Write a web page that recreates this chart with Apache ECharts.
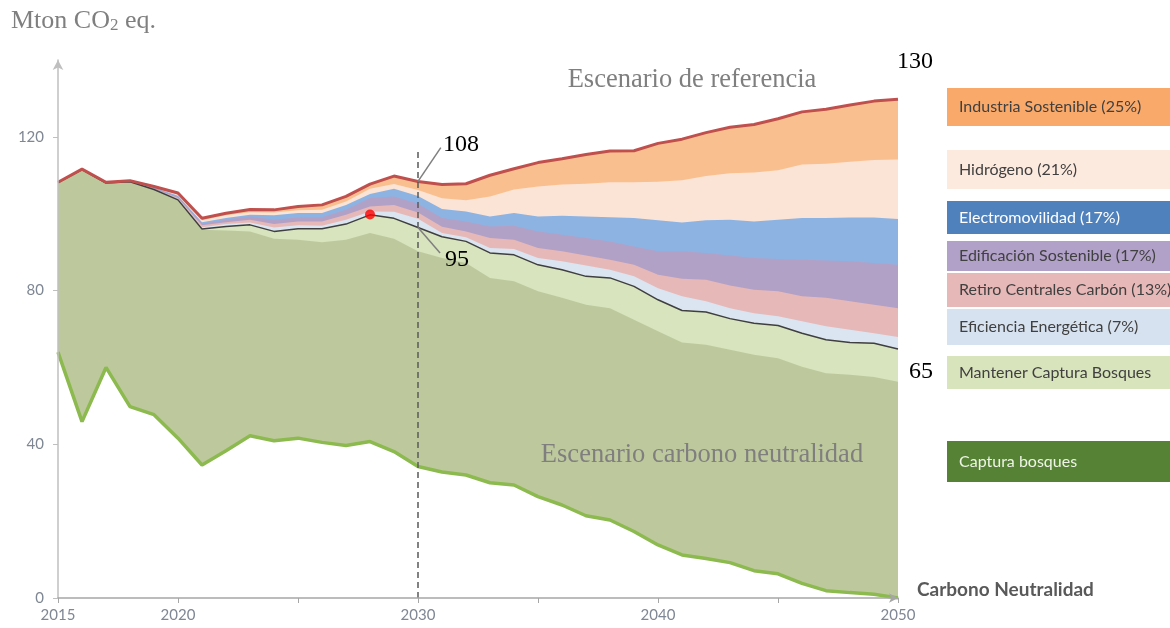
<!DOCTYPE html>
<html>
<head>
<meta charset="utf-8">
<title>Escenarios de emisiones</title>
<script src="https://cdn.jsdelivr.net/npm/echarts@6/dist/echarts.min.js"></script>
<style>
    html, body { margin: 0; padding: 0; background: #fff; }
    #chart { width: 1170px; height: 628px; }
</style>
</head>
<body>
<div id="chart"></div>
<script>
// años 2015..2050
var years = [];
for (var y = 2015; y <= 2050; y++) { years.push(y); }

// bordes (Mton CO2 eq.), de abajo hacia arriba
var capturaBosques = [64, 45.9, 60, 49.8, 47.7, 41.6, 34.6, 38.3, 42.2, 40.9, 41.6, 40.5, 39.7, 40.7, 38.1, 34.2, 32.8, 32, 30, 29.4, 26.4, 24.2, 21.4, 20.3, 17.3, 13.8, 11.2, 10.3, 9.2, 7.1, 6.3, 3.8, 1.9, 1.4, 1, 0];
var topeVerdeOscuro = [108.1, 111.5, 108, 108.3, 106.3, 103.6, 95.8, 95.6, 95.4, 93.5, 93.2, 92.6, 93.2, 95, 93.5, 90.2, 88.5, 87.2, 83.3, 82.4, 79.8, 78.1, 76.3, 75.4, 72.4, 69.4, 66.5, 65.9, 64.6, 63.3, 62.4, 60.2, 58.5, 58.1, 57.5, 56.3];
var escenarioNeutral = [108.1, 111.5, 108, 108.3, 106.3, 103.6, 96, 96.7, 97.1, 95.4, 96.1, 96.1, 97.3, 99.7, 98.8, 96.4, 94, 92.8, 89.8, 89.3, 86.7, 85.4, 83.7, 83.3, 81.1, 77.6, 74.8, 74.4, 72.7, 71.5, 70.9, 68.9, 67.2, 66.5, 66.3, 64.8];
var topeEficiencia = [108.1, 111.5, 108, 108.3, 106.4, 103.8, 96.5, 97.3, 97.7, 96.4, 97, 96.9, 98.4, 100.6, 100.5, 98.7, 95, 93.9, 91.1, 90.8, 88.5, 87.6, 86.5, 85.4, 83.7, 80.6, 78.5, 77.2, 75.4, 74.1, 73.3, 72, 70.7, 69.8, 68.9, 67.9];
var topeRetiro = [108.1, 111.5, 108, 108.3, 106.5, 104.1, 97, 97.8, 98.4, 97.3, 98, 98, 99.7, 101.9, 102.3, 100.3, 96.6, 95.4, 93.7, 93.2, 91.1, 90.2, 89.1, 88, 86.7, 84.1, 83.1, 82.8, 81.3, 80.2, 79.8, 78.5, 78.1, 77.2, 76.3, 75.4];
var topeEdificacion = [108.1, 111.5, 108, 108.3, 106.7, 104.4, 97.4, 98.4, 99.3, 98.4, 99, 99.1, 101, 104.1, 104.5, 102.6, 98.9, 98, 96.7, 96.9, 95.4, 94.5, 93.7, 92.8, 91.5, 90.2, 90.2, 89.8, 89.1, 88.5, 88.2, 88, 87.8, 87.6, 87.2, 86.7];
var topeElectro = [108.1, 111.5, 108, 108.3, 106.8, 104.7, 97.8, 98.9, 99.7, 99.6, 100.2, 100.2, 102.3, 105.1, 106.5, 104.6, 101.2, 100.6, 99.3, 100.2, 99.3, 99.5, 99.3, 99.1, 98.9, 98.3, 97.7, 98.3, 98.4, 98, 98.4, 98.9, 98.9, 99, 99, 98.6];
var topeHidrogeno = [108.2, 111.6, 108.2, 108.6, 106.9, 105, 98.3, 99.6, 100.4, 100.3, 100.9, 101, 103.2, 106.5, 107.7, 106.2, 104, 103.5, 104.5, 106.3, 107.1, 107.6, 107.8, 108.2, 108.2, 108.3, 108.7, 109.8, 110.5, 110.7, 111.3, 112.8, 113, 113.5, 114, 114.1];
var escenarioReferencia = [108.2, 111.6, 108.2, 108.6, 107.1, 105.4, 98.8, 100.1, 101.1, 101, 101.9, 102.3, 104.5, 107.7, 109.8, 108.4, 107.6, 107.8, 110, 111.7, 113.3, 114.3, 115.4, 116.3, 116.4, 118.3, 119.4, 121.1, 122.5, 123.2, 124.7, 126.5, 127.2, 128.3, 129.3, 129.8];

var punto2028 = [[2028, 99.8]];

var yTicks = [0, 40, 80, 120];
var xTicks = [2015, 2020, 2025, 2030, 2035, 2040, 2045, 2050];
var xLabels = [2015, 2020, 2030, 2040, 2050];

var leyenda = [
    { nombre: 'Industria Sostenible (25%)', color: '#f9a96a', texto: '#404040', y: 88, h: 38 },
    { nombre: 'Hidrógeno (21%)', color: '#fdeadf', texto: '#404040', y: 150, h: 39 },
    { nombre: 'Electromovilidad (17%)', color: '#4f81bd', texto: '#ffffff', y: 201, h: 33 },
    { nombre: 'Edificación Sostenible (17%)', color: '#b1a0c7', texto: '#404040', y: 241, h: 30 },
    { nombre: 'Retiro Centrales Carbón (13%)', color: '#e6b8b7', texto: '#404040', y: 273, h: 34 },
    { nombre: 'Eficiencia Energética (7%)', color: '#d7e2f0', texto: '#404040', y: 309, h: 36 },
    { nombre: 'Mantener Captura Bosques', color: '#d8e4bc', texto: '#404040', y: 356, h: 33 },
    { nombre: 'Captura bosques', color: '#568235', texto: '#eef4e6', y: 441, h: 41 }
];

function pares(arr) {
    return arr.map(function (v, i) { return [years[i], v]; });
}

var serif = '"Liberation Serif", "DejaVu Serif", serif';
var sans = 'Lato, "Open Sans", sans-serif';

// area rellena hasta el eje; las de abajo se dibujan encima
function area(nombre, datos, color) {
    return {
        name: nombre,
        type: 'line',
        symbol: 'none',
        data: pares(datos),
        lineStyle: { width: 0 },
        areaStyle: { color: color, opacity: 1 },
        emphasis: { disabled: true },
        silent: true,
        z: 2
    };
}
function linea(nombre, datos, color, ancho) {
    return {
        name: nombre,
        type: 'line',
        symbol: 'none',
        data: pares(datos),
        lineStyle: { color: color, width: ancho },
        emphasis: { disabled: true },
        silent: true,
        z: 3
    };
}

var chart = echarts.init(document.getElementById('chart'));

var graficos = [
    {
        type: 'text', left: 11, top: 8,
        style: {
            text: '{m|Mton CO}{s|2}{m| eq.}',
            rich: {
                m: { fontFamily: serif, fontSize: 26, fill: '#7f7f7f' },
                s: { fontFamily: serif, fontSize: 17, fill: '#7f7f7f', padding: [10, 0, 0, 0] }
            }
        }
    },
    { type: 'text', x: 692, y: 80, style: { text: 'Escenario de referencia', font: '26.5px ' + serif, fill: '#7f7f7f', align: 'center', verticalAlign: 'middle' } },
    { type: 'text', x: 702, y: 455, style: { text: 'Escenario carbono neutralidad', font: '26.5px ' + serif, fill: '#7f7f7f', align: 'center', verticalAlign: 'middle' } },
    { type: 'text', x: 443, y: 145, style: { text: '108', font: '24px ' + serif, fill: '#000', verticalAlign: 'middle' } },
    { type: 'text', x: 445, y: 260, style: { text: '95', font: '24px ' + serif, fill: '#000', verticalAlign: 'middle' } },
    { type: 'text', x: 897, y: 62, style: { text: '130', font: '24px ' + serif, fill: '#000', verticalAlign: 'middle' } },
    { type: 'text', x: 909, y: 372, style: { text: '65', font: '24px ' + serif, fill: '#000', verticalAlign: 'middle' } },
    { type: 'text', x: 917, y: 590, style: { text: 'Carbono Neutralidad', font: 'bold 19px ' + sans, fill: '#595959', verticalAlign: 'middle' } }
];

leyenda.forEach(function (l) {
    graficos.push({ type: 'rect', shape: { x: 947, y: l.y, width: 240, height: l.h }, style: { fill: l.color } });
    graficos.push({ type: 'text', x: 959, y: l.y + l.h / 2, style: { text: l.nombre, font: '16px ' + sans, fill: l.texto, verticalAlign: 'middle' } });
});
// textos por encima de las areas
graficos.forEach(function (g) { g.z = 100; });

option = {
    animation: false,
    backgroundColor: '#ffffff',
    grid: { left: 58, right: 272, top: 60, bottom: 30 },
    xAxis: {
        type: 'value',
        min: 2015,
        max: 2050,
        z: 10,
        axisLine: { show: true, lineStyle: { color: '#a6a6a6', width: 1.5 }, symbol: ['none', 'arrow'], symbolSize: [7, 9] },
        axisTick: { show: true, customValues: xTicks, length: 5, lineStyle: { color: '#a6a6a6' } },
        axisLabel: {
            customValues: xLabels, color: '#7f8794', fontFamily: sans, fontSize: 15, margin: 10,
            formatter: function (v) { return String(v); }
        },
        splitLine: { show: false }
    },
    yAxis: {
        type: 'value',
        min: 0,
        max: 140,
        z: 10,
        axisLine: { show: true, lineStyle: { color: '#bfbfbf', width: 1.5 }, symbol: ['none', 'arrow'], symbolSize: [8, 10] },
        axisTick: { show: true, customValues: yTicks, length: 5, lineStyle: { color: '#bfbfbf' } },
        axisLabel: { customValues: yTicks, color: '#7f8794', fontFamily: sans, fontSize: 15, margin: 14 },
        splitLine: { show: false }
    },
    graphic: graficos,
    series: [
        area('Industria Sostenible', escenarioReferencia, '#f9bf8f'),
        area('Hidrógeno', topeHidrogeno, '#fbe4d6'),
        area('Electromovilidad', topeElectro, '#8db3e2'),
        area('Edificación Sostenible', topeEdificacion, '#b2a1c7'),
        area('Retiro Centrales Carbón', topeRetiro, '#e6b9b8'),
        area('Eficiencia Energética', topeEficiencia, '#dbe5f1'),
        area('Mantener Captura Bosques', escenarioNeutral, '#d7e4bd'),
        area('Escenario carbono neutralidad', topeVerdeOscuro, '#bdc99d'),
        area('Bajo captura', capturaBosques, '#ffffff'),
        linea('Escenario neutralidad', escenarioNeutral, '#3f3f3f', 1.5),
        linea('Captura bosques', capturaBosques, '#8cba4f', 3.5),
        {
            name: 'Escenario de referencia',
            type: 'line',
            symbol: 'none',
            data: pares(escenarioReferencia),
            lineStyle: { color: '#c0504d', width: 3 },
            emphasis: { disabled: true },
            silent: true,
            z: 4,
            markLine: {
                silent: true,
                symbol: 'none',
                label: { show: false },
                data: [
                    [{ coord: [2030, 0], lineStyle: { color: '#595959', width: 1.5, type: [6, 4] } }, { coord: [2030, 116.2] }],
                    [{ coord: [2030, 108.4], lineStyle: { color: '#7f7f7f', width: 1.5, type: 'solid' } }, { coord: [2030.95, 117.2] }],
                    [{ coord: [2030, 96.4], lineStyle: { color: '#7f7f7f', width: 1.5, type: 'solid' } }, { coord: [2030.92, 89.8] }]
                ]
            }
        },
        {
            name: 'punto',
            type: 'scatter',
            data: punto2028,
            symbolSize: 10,
            itemStyle: { color: '#ff0000' },
            silent: true,
            z: 6
        }
    ]
};

chart.setOption(option, true);
</script>
</body>
</html>
